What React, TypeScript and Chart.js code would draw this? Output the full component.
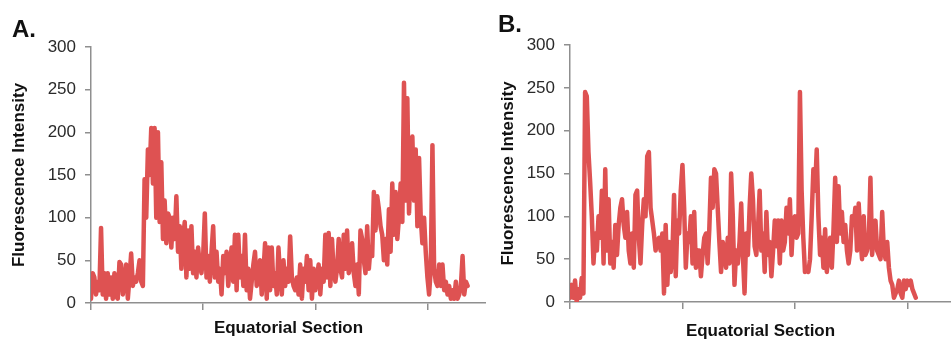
import React, { useEffect, useRef } from "react";
import { Chart, registerables } from "chart.js";

Chart.register(...registerables);

// ---- data ----
const Y_MIN = 0;
const Y_MAX = 300;
const Y_STEP = 50;
const X_TICK_STEP = 67;

const X_TITLE_A = "Equatorial Section";
const X_TITLE_B = "Equatorial Section";
const Y_TITLE = "Fluorescence Intensity";

const PANEL_A_VALUES = [
  5, 35, 30, 10, 25, 15, 88, 10, 35, 5, 35, 10, 30, 5, 35, 8, 5, 48, 45, 10,
  25, 45, 5, 30, 58, 20, 30, 25, 35, 50, 25, 20, 145, 100, 180, 150, 205, 140, 205, 100,
  200, 95, 165, 75, 120, 70, 105, 100, 65, 100, 75, 125, 60, 90, 40, 75, 95, 30, 85, 40,
  90, 35, 60, 30, 65, 45, 35, 55, 105, 30, 55, 25, 60, 90, 30, 60, 25, 40, 10, 55,
  35, 60, 20, 45, 65, 25, 80, 15, 80, 30, 55, 20, 80, 15, 40, 5, 25, 45, 60, 20,
  30, 50, 10, 35, 70, 5, 65, 15, 65, 20, 35, 10, 65, 30, 10, 50, 20, 40, 25, 78,
  30, 20, 15, 30, 10, 45, 5, 40, 25, 55, 15, 50, 5, 40, 15, 30, 45, 10, 40, 25,
  80, 30, 82, 20, 75, 35, 25, 40, 75, 40, 30, 80, 40, 85, 35, 45, 70, 35, 20, 45,
  10, 85, 75, 50, 35, 90, 40, 65, 55, 130, 85, 125, 110, 90, 80, 50, 75, 45, 110, 60,
  140, 80, 130, 75, 100, 140, 95, 258, 120, 240, 105, 160, 195, 120, 180, 90, 170, 100, 70, 100,
  60, 30, 10, 40, 185, 40, 25, 20, 45, 20, 45, 15, 25, 10, 20, 5, 15, 5, 25, 5,
  10, 20, 55, 10, 25, 20,
];

const PANEL_B_VALUES = [
  5, 20, 5, 25, 0, 15, 5, 28, 10, 245, 240, 175, 140, 100, 45, 80, 60, 100, 75, 130,
  45, 155, 60, 120, 45, 70, 40, 90, 55, 90, 110, 120, 90, 75, 105, 60, 45, 80, 40, 125,
  130, 75, 45, 90, 120, 100, 170, 175, 110, 95, 80, 60, 70, 75, 60, 80, 10, 90, 20, 70,
  35, 55, 125, 30, 95, 80, 130, 160, 110, 40, 80, 70, 100, 45, 105, 40, 60, 60, 30, 55,
  75, 80, 45, 85, 145, 110, 155, 150, 110, 70, 35, 70, 60, 40, 75, 45, 150, 100, 20, 60,
  45, 70, 115, 55, 10, 80, 55, 110, 150, 120, 65, 55, 85, 130, 60, 80, 35, 105, 55, 70,
  30, 60, 95, 65, 95, 45, 95, 60, 70, 110, 80, 120, 55, 95, 100, 75, 80, 245, 130, 75,
  35, 40, 35, 50, 100, 155, 130, 178, 100, 55, 75, 40, 85, 35, 60, 75, 40, 85, 145, 70,
  135, 80, 105, 70, 90, 60, 45, 60, 100, 90, 110, 60, 115, 75, 50, 100, 55, 60, 70, 145,
  55, 80, 95, 60, 55, 50, 105, 60, 50, 70, 40, 25, 20, 5, 10, 15, 25, 10, 5, 25,
  15, 25, 20, 25, 15, 10, 5,
];

// ---- styles ----
const FONT = "'Liberation Sans', Arial, Helvetica, sans-serif";
const LINE_COLOR = "#DE5252";
const AXIS_COLOR = "#8f8f8f";

type PanelProps = {
  values: number[];
  xMax: number;
  xTitle: string;
  left: number;
  width: number;
  top: number;
  yWidth: number;
  xHeight: number;
  yTitlePad: number;
  xTitlePad: number;
  xTitleLineHeight: number;
};

function Panel(p: PanelProps) {
  const ref = useRef<HTMLCanvasElement | null>(null);
  useEffect(() => {
    if (!ref.current) return;
    const chart = new Chart(ref.current, {
      type: "line",
      data: {
        datasets: [
          {
            data: p.values.map((v, i) => ({ x: i, y: v })),
            borderColor: LINE_COLOR,
            backgroundColor: LINE_COLOR,
            borderWidth: 4.5,
            pointRadius: 0,
            tension: 0,
            borderJoinStyle: "round",
            borderCapStyle: "round",
          },
        ],
      },
      options: {
        responsive: false,
        animation: false,
        devicePixelRatio: 1,
        layout: { padding: { left: 0, right: 0, top: p.top, bottom: 0 } },
        plugins: { legend: { display: false }, tooltip: { enabled: false } },
        scales: {
          x: {
            type: "linear",
            min: 0,
            max: p.xMax,
            afterBuildTicks: (scale: any) => {
              scale.ticks = scale.ticks.filter((t: any) => t.value % X_TICK_STEP === 0);
            },
            afterFit: (scale: any) => {
              scale.height = p.xHeight;
            },
            ticks: { stepSize: X_TICK_STEP, callback: () => "", autoSkip: false },
            grid: {
              drawOnChartArea: false,
              drawTicks: true,
              tickLength: 7,
              color: AXIS_COLOR,
              lineWidth: 1.5,
            },
            border: { display: true, color: AXIS_COLOR, width: 1.5 },
            title: {
              display: true,
              text: p.xTitle,
              color: "#111",
              font: { family: FONT, size: 17, weight: "bold", lineHeight: p.xTitleLineHeight },
              padding: { top: 0, bottom: p.xTitlePad },
            },
          },
          y: {
            min: Y_MIN,
            max: Y_MAX,
            afterFit: (scale: any) => {
              scale.width = p.yWidth;
            },
            ticks: {
              stepSize: Y_STEP,
              color: "#2a2a2a",
              padding: 9,
              font: { family: FONT, size: 17 },
            },
            grid: {
              drawOnChartArea: false,
              drawTicks: true,
              tickLength: 6,
              color: AXIS_COLOR,
              lineWidth: 1.5,
            },
            border: { display: true, color: AXIS_COLOR, width: 1.5 },
            title: {
              display: true,
              text: Y_TITLE,
              color: "#111",
              font: { family: FONT, size: 17, weight: "bold", lineHeight: 1.2 },
              padding: { top: p.yTitlePad, bottom: 0 },
            },
          },
        },
      },
    } as any);
    return () => chart.destroy();
  }, []);
  return (
    <canvas
      ref={ref}
      width={p.width}
      height={340}
      style={{ position: "absolute", left: p.left, top: 0, width: p.width, height: 340 }}
    />
  );
}

const labelStyle: React.CSSProperties = {
  position: "absolute",
  fontFamily: FONT,
  fontWeight: "bold",
  fontSize: 24,
  lineHeight: "24px",
  color: "#111",
  margin: 0,
};

export default function App() {
  return (
    <div
      style={{
        position: "fixed",
        left: 0,
        top: 0,
        width: 951,
        height: 340,
        background: "#fff",
        overflow: "hidden",
      }}
    >
      <Panel
        values={PANEL_A_VALUES}
        xMax={236}
        xTitle={X_TITLE_A}
        left={0}
        width={486}
        top={47}
        yWidth={91}
        xHeight={37}
        yTitlePad={9}
        xTitlePad={1}
        xTitleLineHeight={1.2}
      />
      <Panel
        values={PANEL_B_VALUES}
        xMax={227}
        xTitle={X_TITLE_B}
        left={480}
        width={471}
        top={45}
        yWidth={90}
        xHeight={38}
        yTitlePad={18}
        xTitlePad={0}
        xTitleLineHeight={1}
      />
      <div style={{ ...labelStyle, left: 12, top: 17 }}>A.</div>
      <div style={{ ...labelStyle, left: 498, top: 12 }}>B.</div>
    </div>
  );
}
